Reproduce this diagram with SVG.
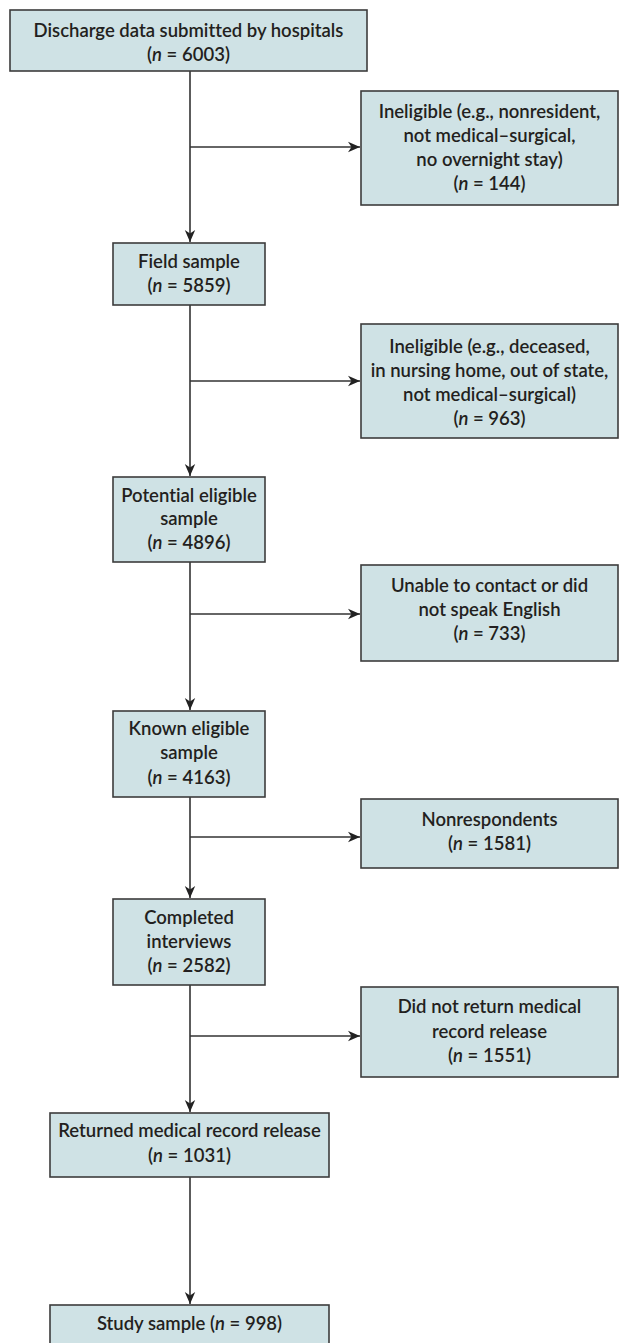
<svg xmlns="http://www.w3.org/2000/svg" width="631" height="1343" viewBox="0 0 631 1343">
<style>
.box{fill:#cfe2e5;stroke:#3c3c3c;stroke-width:1.6}
.t{font-family:Lato,"Open Sans","Liberation Sans",sans-serif;font-weight:600;font-size:18.5px;fill:#231f20;text-anchor:middle;font-variant-ligatures:none;font-feature-settings:"liga" 0}
.i{font-style:italic}
.c{fill:none;stroke:#333;stroke-width:1.6}
</style>
<defs>
<marker id="ah" markerUnits="userSpaceOnUse" markerWidth="14" markerHeight="12" viewBox="-13 -6 14 12" refX="0" refY="0" orient="auto">
<path d="M0,0 L-12,-5.2 L-8.5,0 L-12,5.2 Z" fill="#222"/>
</marker>
</defs>
<g id="connectors">
<line class="c" x1="190" y1="71" x2="190" y2="242" marker-end="url(#ah)"/>
<line class="c" x1="190" y1="305" x2="190" y2="476" marker-end="url(#ah)"/>
<line class="c" x1="190" y1="562" x2="190" y2="710" marker-end="url(#ah)"/>
<line class="c" x1="190" y1="797" x2="190" y2="898" marker-end="url(#ah)"/>
<line class="c" x1="190" y1="985" x2="190" y2="1112" marker-end="url(#ah)"/>
<line class="c" x1="190" y1="1177" x2="190" y2="1304" marker-end="url(#ah)"/>
<line class="c" x1="190" y1="147" x2="360" y2="147" marker-end="url(#ah)"/>
<line class="c" x1="190" y1="381" x2="360" y2="381" marker-end="url(#ah)"/>
<line class="c" x1="190" y1="614" x2="360" y2="614" marker-end="url(#ah)"/>
<line class="c" x1="190" y1="837" x2="360" y2="837" marker-end="url(#ah)"/>
<line class="c" x1="190" y1="1036" x2="360" y2="1036" marker-end="url(#ah)"/>
</g>
<g id="n1">
<rect class="box" x="10" y="10" width="357" height="61"/>
<text class="t" x="188.5" y="37">Discharge data submitted by hospitals</text>
<text class="t" x="188.5" y="61">(<tspan class="i">n</tspan> = 6003)</text>
</g>
<g id="s1">
<rect class="box" x="361" y="91" width="257" height="114"/>
<text class="t" x="489.5" y="118">Ineligible (e.g., nonresident,</text>
<text class="t" x="489.5" y="142">not medical–surgical,</text>
<text class="t" x="489.5" y="166">no overnight stay)</text>
<text class="t" x="489.5" y="190">(<tspan class="i">n</tspan> = 144)</text>
</g>
<g id="n2">
<rect class="box" x="113" y="243" width="152" height="62"/>
<text class="t" x="189" y="268">Field sample</text>
<text class="t" x="189" y="292">(<tspan class="i">n</tspan> = 5859)</text>
</g>
<g id="s2">
<rect class="box" x="361" y="324" width="257" height="114"/>
<text class="t" x="489.5" y="353">Ineligible (e.g., deceased,</text>
<text class="t" x="489.5" y="377">in nursing home, out of state,</text>
<text class="t" x="489.5" y="401">not medical–surgical)</text>
<text class="t" x="489.5" y="425">(<tspan class="i">n</tspan> = 963)</text>
</g>
<g id="n3">
<rect class="box" x="113" y="477" width="152" height="85"/>
<text class="t" x="189" y="502">Potential eligible</text>
<text class="t" x="189" y="525">sample</text>
<text class="t" x="189" y="549">(<tspan class="i">n</tspan> = 4896)</text>
</g>
<g id="s3">
<rect class="box" x="361" y="565" width="257" height="96"/>
<text class="t" x="489.5" y="592">Unable to contact or did</text>
<text class="t" x="489.5" y="616">not speak English</text>
<text class="t" x="489.5" y="640">(<tspan class="i">n</tspan> = 733)</text>
</g>
<g id="n4">
<rect class="box" x="113" y="711" width="152" height="86"/>
<text class="t" x="189" y="735">Known eligible</text>
<text class="t" x="189" y="759">sample</text>
<text class="t" x="189" y="784">(<tspan class="i">n</tspan> = 4163)</text>
</g>
<g id="s4">
<rect class="box" x="361" y="799" width="257" height="69"/>
<text class="t" x="489.5" y="826">Nonrespondents</text>
<text class="t" x="489.5" y="850">(<tspan class="i">n</tspan> = 1581)</text>
</g>
<g id="n5">
<rect class="box" x="113" y="899" width="152" height="86"/>
<text class="t" x="189" y="924">Completed</text>
<text class="t" x="189" y="948">interviews</text>
<text class="t" x="189" y="972">(<tspan class="i">n</tspan> = 2582)</text>
</g>
<g id="s5">
<rect class="box" x="361" y="987" width="257" height="90"/>
<text class="t" x="489.5" y="1013">Did not return medical</text>
<text class="t" x="489.5" y="1038">record release</text>
<text class="t" x="489.5" y="1062">(<tspan class="i">n</tspan> = 1551)</text>
</g>
<g id="n6">
<rect class="box" x="50" y="1113" width="279" height="64"/>
<text class="t" x="189.5" y="1137">Returned medical record release</text>
<text class="t" x="189.5" y="1162">(<tspan class="i">n</tspan> = 1031)</text>
</g>
<g id="n7">
<rect class="box" x="50" y="1305" width="279" height="50"/>
<text class="t" x="189.5" y="1330">Study sample (<tspan class="i">n</tspan> = 998)</text>
</g>
</svg>
